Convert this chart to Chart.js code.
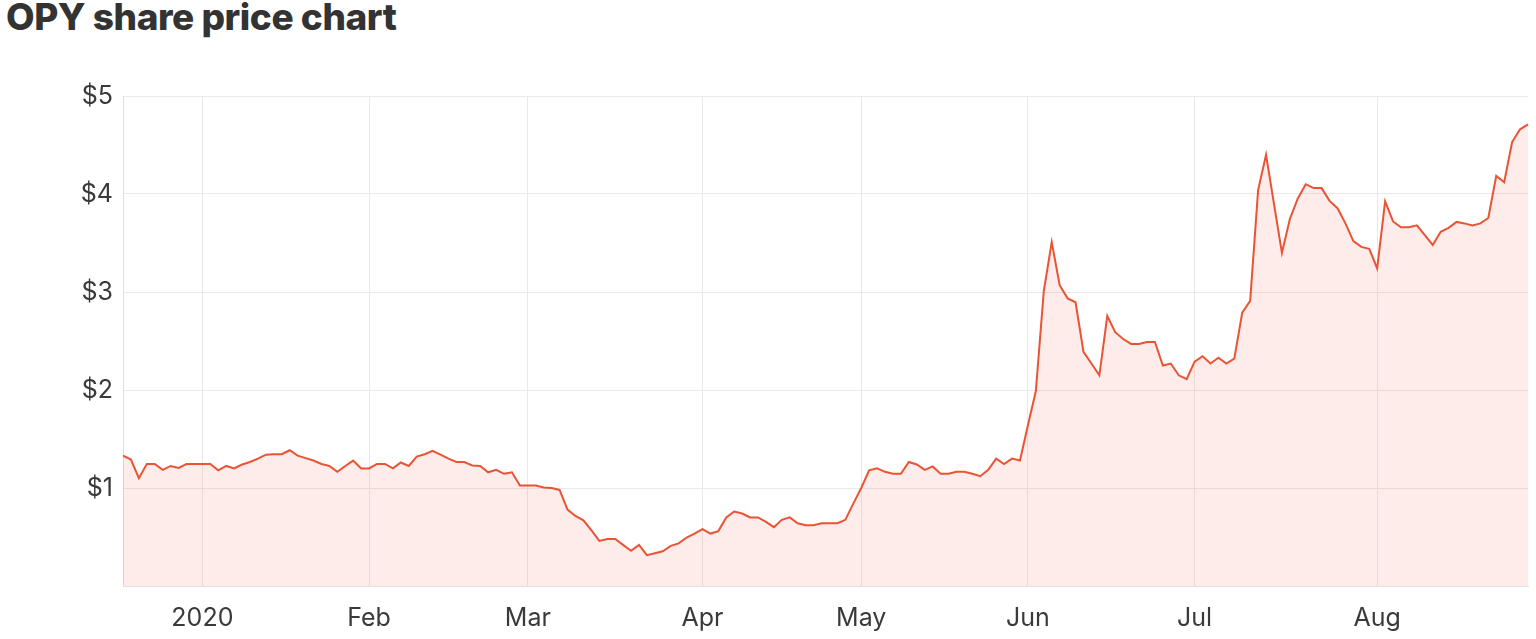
<!DOCTYPE html>
<html>
<head>
<meta charset="utf-8">
<script src="https://cdn.jsdelivr.net/npm/chart.js@4/dist/chart.umd.min.js"></script>
<style>
  html, body { margin: 0; padding: 0; background: #fff; width: 1536px; height: 639px; overflow: hidden; }
  #title { position: absolute; left: 6px; top: -2px; font-family: Inter, "Open Sans", sans-serif; font-weight: 800; font-size: 37px; letter-spacing: -0.45px; line-height: 1; color: #333; white-space: nowrap; }
  #c { position: absolute; left: 0; top: 0; }
</style>
</head>
<body>
<div id="title">OPY share price chart</div>
<canvas id="c" width="1536" height="639"></canvas>
<script>
// Trading days (ASX), by month
const monthKeys = ['2019-12','2020-01','2020-02','2020-03','2020-04','2020-05','2020-06','2020-07','2020-08'];
const tradingDays = [
  [16,17,18,19,20,23,24,27,30,31],
  [2,3,6,7,8,9,10,13,14,15,16,17,20,21,22,23,24,28,29,30,31],
  [3,4,5,6,7,10,11,12,13,14,17,18,19,20,21,24,25,26,27,28],
  [2,3,4,5,6,9,10,11,12,13,16,17,18,19,20,23,24,25,26,27,30,31],
  [1,2,3,6,7,8,9,14,15,16,17,20,21,22,23,24,27,28,29,30],
  [1,4,5,6,7,8,11,12,13,14,15,18,19,20,21,22,25,26,27,28,29],
  [1,2,3,4,5,9,10,11,12,15,16,17,18,19,22,23,24,25,26,29,30],
  [1,2,3,6,7,8,9,10,13,14,15,16,17,20,21,22,23,24,27,28,29,30,31],
  [3,4,5,6,7,10,11,12,13,14,17,18,19,20,21,24,25,26,27,28]
];
// Month tick labels (shown at first trading day of each month)
const tickMonths = ['2020-01','2020-02','2020-03','2020-04','2020-05','2020-06','2020-07','2020-08'];
const tickLabels = ['2020','Feb','Mar','Apr','May','Jun','Jul','Aug'];

// Closing prices (AUD)
const prices = [
  1.33,1.29,1.10,1.245,1.245,1.185,1.225,1.205,1.245,1.245,
  1.245,1.245,1.18,1.225,1.20,1.24,1.265,1.30,1.34,1.345,
  1.345,1.385,1.33,1.305,1.28,1.245,1.225,1.165,1.225,1.28,
  1.20,1.20,1.245,1.245,1.20,1.26,1.225,1.32,1.345,1.38,
  1.34,1.30,1.265,1.265,1.23,1.225,1.16,1.185,1.145,1.16,
  1.025,1.025,1.025,1.005,1.0,0.98,0.78,0.715,0.67,0.57,
  0.46,0.48,0.48,0.42,0.36,0.42,0.315,0.335,0.355,0.41,
  0.435,0.495,0.535,0.58,0.535,0.56,0.70,0.76,0.74,0.70,
  0.70,0.655,0.60,0.675,0.70,0.64,0.62,0.62,0.64,0.64,
  0.64,0.675,0.84,1.00,1.18,1.20,1.165,1.145,1.145,1.265,
  1.24,1.185,1.22,1.145,1.145,1.165,1.165,1.145,1.12,1.185,
  1.30,1.245,1.30,1.28,1.64,1.99,3.01,3.51,3.07,2.935,
  2.895,2.39,2.27,2.15,2.755,2.59,2.52,2.47,2.47,2.49,
  2.49,2.25,2.27,2.15,2.11,2.29,2.345,2.27,2.33,2.27,
  2.32,2.79,2.91,4.04,4.40,3.90,3.40,3.745,3.955,4.10,
  4.06,4.06,3.93,3.855,3.70,3.52,3.46,3.44,3.24,3.925,
  3.72,3.66,3.66,3.68,3.58,3.48,3.615,3.655,3.715,3.70,
  3.68,3.70,3.755,4.185,4.12,4.53,4.66,4.71
];
const yTicks = [0,1,2,3,4,5];

const labels = [];
monthKeys.forEach((m, k) => tradingDays[k].forEach(d => labels.push(m + '-' + String(d).padStart(2, '0'))));
const tickMap = {};
tickMonths.forEach((m, k) => {
  const idx = labels.findIndex(l => l.startsWith(m));
  if (idx >= 0) tickMap[idx] = tickLabels[k];
});

const gridColor = '#e9e9e9';
Chart.defaults.font.family = 'Inter, "Open Sans", sans-serif';
Chart.defaults.color = '#3a3a3a';

new Chart(document.getElementById('c'), {
  type: 'line',
  data: {
    labels: labels,
    datasets: [{
      data: prices,
      borderColor: '#EA5334',
      backgroundColor: 'rgba(234,83,52,0.11)',
      borderWidth: 2,
      fill: 'origin',
      pointRadius: 0,
      pointHoverRadius: 0,
      tension: 0
    }]
  },
  options: {
    responsive: false,
    animation: false,
    devicePixelRatio: 1,
    layout: { padding: { top: 96, right: 8, bottom: 0, left: 0 } },
    plugins: { legend: { display: false }, tooltip: { enabled: false }, title: { display: false } },
    scales: {
      x: {
        type: 'category',
        offset: false,
        grid: { color: gridColor, drawTicks: false, lineWidth: 1 },
        border: { display: true, color: '#e0e0e0' },
        ticks: {
          autoSkip: false,
          maxRotation: 0,
          padding: 17,
          font: { size: 25 },
          callback: (v) => tickMap[v] ?? ''
        },
        afterBuildTicks: (scale) => { scale.ticks = scale.ticks.filter(t => t.value in tickMap); },
        afterFit: (scale) => { scale.height = 53; }
      },
      y: {
        min: yTicks[0],
        max: yTicks[yTicks.length - 1],
        grid: { color: gridColor, drawTicks: false, lineWidth: 1 },
        border: { display: true, color: '#e0e0e0' },
        ticks: {
          stepSize: 1,
          padding: 10,
          font: { size: 25 },
          callback: (v) => v === 0 ? '' : '$' + v
        },
        afterFit: (scale) => { scale.width = 123; }
      }
    }
  }
});
</script>
</body>
</html>
